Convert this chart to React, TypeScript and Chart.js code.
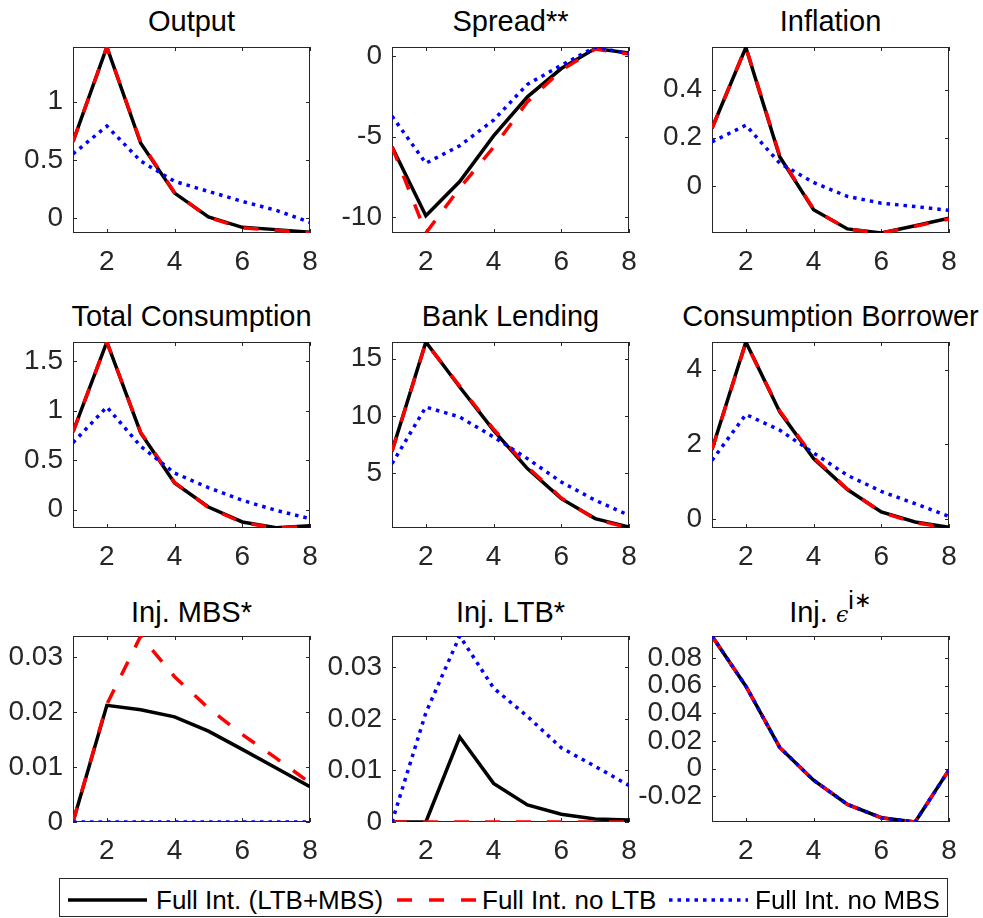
import { useEffect, useRef } from 'react';
import Chart from 'chart.js/auto';

// horizon (quarters) and tick marks shared by every panel
const periods = [1, 2, 3, 4, 5, 6, 7, 8];
const xTicks = [2, 4, 6, 8];

const seriesNames = ['Full Int. (LTB+MBS)', 'Full Int. no LTB', 'Full Int. no MBS'];

// Output
const outputFull = [0.657, 1.471, 0.643, 0.214, 0.009, -0.08, -0.1, -0.123];
const outputNoLtb = [0.657, 1.471, 0.65, 0.22, 0.005, -0.085, -0.105, -0.129];
const outputNoMbs = [0.551, 0.791, 0.49, 0.315, 0.229, 0.143, 0.066, -0.037];
const outputTicks = [0, 0.5, 1];

// Spread**
const spreadFull = [-5.62, -9.92, -7.79, -4.95, -2.52, -0.76, 0.48, 0.21];
const spreadNoLtb = [-5.62, -10.99, -8.2, -5.65, -2.83, -0.87, 0.45, 0.15];
const spreadNoMbs = [-3.72, -6.65, -5.56, -3.97, -1.74, -0.56, 0.58, 0.17];
const spreadTicks = [-10, -5, 0];

// Inflation
const inflationFull = [0.239, 0.575, 0.121, -0.099, -0.179, -0.196, -0.166, -0.134];
const inflationNoLtb = [0.239, 0.577, 0.125, -0.097, -0.18, -0.196, -0.168, -0.138];
const inflationNoMbs = [0.183, 0.252, 0.094, 0.014, -0.044, -0.072, -0.086, -0.102];
const inflationTicks = [0, 0.2, 0.4];

// Total Consumption
const consFull = [0.784, 1.692, 0.774, 0.269, 0.027, -0.124, -0.182, -0.161];
const consNoLtb = [0.784, 1.69, 0.78, 0.275, 0.022, -0.13, -0.185, -0.165];
const consNoMbs = [0.676, 1.036, 0.64, 0.37, 0.222, 0.094, -0.007, -0.091];
const consTicks = [0, 0.5, 1, 1.5];

// Bank Lending
const lendingFull = [6.92, 16.45, 12.53, 8.75, 5.41, 2.79, 1.05, 0.32];
const lendingNoLtb = [6.92, 16.4, 12.6, 8.85, 5.55, 2.85, 1.0, 0.23];
const lendingNoMbs = [5.84, 10.78, 9.91, 8.17, 6.28, 4.24, 2.65, 1.34];
const lendingTicks = [5, 10, 15];

// Consumption Borrower
const borrowerFull = [1.86, 4.74, 2.87, 1.62, 0.79, 0.19, -0.08, -0.22];
const borrowerNoLtb = [1.86, 4.72, 2.9, 1.65, 0.8, 0.18, -0.1, -0.24];
const borrowerNoMbs = [1.57, 2.8, 2.38, 1.77, 1.17, 0.74, 0.41, 0.07];
const borrowerTicks = [0, 2, 4];

// Inj. MBS*
const mbsFull = [0, 0.0212, 0.0204, 0.0191, 0.0165, 0.0132, 0.0098, 0.0064];
const mbsNoLtb = [0, 0.0214, 0.0338, 0.0264, 0.0207, 0.0159, 0.0116, 0.0071];
const mbsNoMbs = [0, 0, 0, 0, 0, 0, 0, 0];
const mbsTicks = [0, 0.01, 0.02, 0.03];

// Inj. LTB*
const ltbFull = [0, 0, 0.0165, 0.0075, 0.0033, 0.0015, 0.0006, 0.0004];
const ltbNoLtb = [0, 0, 0, 0, 0, 0, 0, 0];
const ltbNoMbs = [0, 0.0212, 0.0361, 0.026, 0.0205, 0.0144, 0.0108, 0.0071];
const ltbTicks = [0, 0.01, 0.02, 0.03];

// Inj. epsilon^i*
const epsFull = [0.0961, 0.0597, 0.0153, -0.0085, -0.026, -0.0357, -0.0388, -0.001];
const epsNoLtb = [0.0961, 0.0597, 0.0153, -0.0085, -0.026, -0.0357, -0.0388, -0.001];
const epsNoMbs = [0.0961, 0.0597, 0.0153, -0.0085, -0.026, -0.0357, -0.0388, -0.001];
const epsTicks = [-0.02, 0, 0.02, 0.04, 0.06, 0.08];

type Panel = {
  title: React.ReactNode;
  full: number[];
  noLtb: number[];
  noMbs: number[];
  yTicks: number[];
};

const FONT = "'Liberation Sans', Arial, Helvetica, sans-serif";

const panels: Panel[] = [
  { title: 'Output', full: outputFull, noLtb: outputNoLtb, noMbs: outputNoMbs, yTicks: outputTicks },
  { title: 'Spread**', full: spreadFull, noLtb: spreadNoLtb, noMbs: spreadNoMbs, yTicks: spreadTicks },
  { title: 'Inflation', full: inflationFull, noLtb: inflationNoLtb, noMbs: inflationNoMbs, yTicks: inflationTicks },
  { title: 'Total Consumption', full: consFull, noLtb: consNoLtb, noMbs: consNoMbs, yTicks: consTicks },
  { title: 'Bank Lending', full: lendingFull, noLtb: lendingNoLtb, noMbs: lendingNoMbs, yTicks: lendingTicks },
  { title: 'Consumption Borrower', full: borrowerFull, noLtb: borrowerNoLtb, noMbs: borrowerNoMbs, yTicks: borrowerTicks },
  { title: 'Inj. MBS*', full: mbsFull, noLtb: mbsNoLtb, noMbs: mbsNoMbs, yTicks: mbsTicks },
  { title: 'Inj. LTB*', full: ltbFull, noLtb: ltbNoLtb, noMbs: ltbNoMbs, yTicks: ltbTicks },
  {
    title: (
      <>
        Inj.{' '}
        <span style={{ fontFamily: "'DejaVu Serif', serif", fontStyle: 'italic', fontSize: 22 }}>ϵ</span>
        <span style={{ fontSize: 25, position: 'relative', top: -13 }}>i</span>
        <span style={{ fontSize: 21, position: 'relative', top: -15 }}>∗</span>
      </>
    ),
    full: epsFull,
    noLtb: epsNoLtb,
    noMbs: epsNoMbs,
    yTicks: epsTicks,
  },
];

// layout of the 3x3 grid (axes boxes)
const colLeft = [73, 392, 712];
const rowTop = [47, 342, 636];
const titleTop = [7, 302, 598];
const AX_W = 237;
const AX_H = 186;
const Y_AXIS_W = 80;
const X_AXIS_H = 48;
const PAD_TOP = 6;
const PAD_RIGHT = 18;
const TICK_LEN = 4;

const toXY = (vals: number[]) => vals.map((y, i) => ({ x: periods[i], y }));

// matlab style box with inward ticks on all four sides
const boxPlugin = {
  id: 'matlabBox',
  beforeDatasetsDraw(chart: any) {
    const { ctx, chartArea: a, scales } = chart;
    ctx.save();
    ctx.strokeStyle = '#262626';
    ctx.lineWidth = 1;
    ctx.strokeRect(a.left + 0.5, a.top + 0.5, a.width - 1, a.height - 1);
    ctx.beginPath();
    for (const t of scales.x.ticks) {
      const px = Math.round(scales.x.getPixelForValue(t.value)) + 0.5;
      ctx.moveTo(px, a.bottom);
      ctx.lineTo(px, a.bottom - TICK_LEN);
      ctx.moveTo(px, a.top);
      ctx.lineTo(px, a.top + TICK_LEN);
    }
    for (const t of scales.y.ticks) {
      const py = Math.round(scales.y.getPixelForValue(t.value)) + 0.5;
      ctx.moveTo(a.left, py);
      ctx.lineTo(a.left + TICK_LEN, py);
      ctx.moveTo(a.right, py);
      ctx.lineTo(a.right - TICK_LEN, py);
    }
    ctx.stroke();
    ctx.restore();
  },
};

function PanelChart({ panel, col, row }: { panel: Panel; col: number; row: number }) {
  const canvasRef = useRef<HTMLCanvasElement>(null);

  useEffect(() => {
    if (!canvasRef.current) return;
    const all = [...panel.full, ...panel.noLtb, ...panel.noMbs];
    const tickFont = { family: FONT, size: 28 };

    const chart = new Chart(canvasRef.current, {
      type: 'line',
      data: {
        datasets: [
          { label: seriesNames[0], data: toXY(panel.full), borderColor: '#000000', borderWidth: 3.5, order: 3 },
          {
            label: seriesNames[1],
            data: toXY(panel.noLtb),
            borderColor: '#ff0000',
            borderWidth: 3.5,
            borderDash: [15, 16],
            order: 2,
          },
          {
            label: seriesNames[2],
            data: toXY(panel.noMbs),
            borderColor: '#0000ff',
            borderWidth: 3.5,
            borderDash: [3.5, 5],
            order: 1,
          },
        ],
      },
      options: {
        animation: false,
        responsive: true,
        maintainAspectRatio: false,
        layout: { padding: { top: PAD_TOP, right: PAD_RIGHT, left: 0, bottom: 0 } },
        elements: {
          point: { radius: 0 },
          line: { tension: 0, borderCapStyle: 'butt', borderJoinStyle: 'miter', fill: false },
        },
        plugins: { legend: { display: false }, tooltip: { enabled: false } },
        scales: {
          x: {
            type: 'linear',
            min: periods[0],
            max: periods[periods.length - 1],
            grid: { display: false, drawTicks: false },
            border: { display: false },
            afterBuildTicks: (s: any) => {
              s.ticks = xTicks.map((v) => ({ value: v }));
            },
            afterFit: (s: any) => {
              s.height = X_AXIS_H;
              s.paddingLeft = 0;
              s.paddingRight = 0;
            },
            ticks: {
              padding: 12,
              color: '#262626',
              font: tickFont,
              maxRotation: 0,
              autoSkip: false,
              callback: (v: any) => String(v),
            },
          },
          y: {
            type: 'linear',
            min: Math.min(...all),
            max: Math.max(...all),
            grid: { display: false, drawTicks: false },
            border: { display: false },
            afterBuildTicks: (s: any) => {
              s.ticks = panel.yTicks.map((v) => ({ value: v }));
            },
            afterFit: (s: any) => {
              s.width = Y_AXIS_W;
              s.paddingTop = 0;
              s.paddingBottom = 0;
            },
            ticks: {
              padding: 10,
              color: '#262626',
              font: tickFont,
              autoSkip: false,
              callback: (v: any) => String(v),
            },
          },
        },
      },
      plugins: [boxPlugin],
    });

    return () => chart.destroy();
  }, [panel]);

  const left = colLeft[col];
  const top = rowTop[row];

  return (
    <>
      <div
        style={{
          position: 'absolute',
          left: left + AX_W / 2 - 200,
          top: titleTop[row],
          width: 400,
          textAlign: 'center',
          fontSize: 29,
          lineHeight: '29px',
          color: '#000',
          whiteSpace: 'nowrap',
        }}
      >
        {panel.title}
      </div>
      <div
        style={{
          position: 'absolute',
          left: left - Y_AXIS_W,
          top: top - PAD_TOP,
          width: Y_AXIS_W + AX_W + PAD_RIGHT,
          height: PAD_TOP + AX_H + X_AXIS_H,
        }}
      >
        <canvas ref={canvasRef} />
      </div>
    </>
  );
}

function LegendSample({ color, dash }: { color: string; dash?: string }) {
  return (
    <svg width={80} height={8} style={{ display: 'block' }}>
      <line x1={0} y1={4} x2={79} y2={4} stroke={color} strokeWidth={3.5} strokeDasharray={dash} />
    </svg>
  );
}

const legendItems = [
  { color: '#000000', dash: undefined, sampleX: 68, textX: 156 },
  { color: '#ff0000', dash: '15 17', sampleX: 397, textX: 482 },
  { color: '#0000ff', dash: '3.5 5', sampleX: 669, textX: 755 },
];

export default function App() {
  return (
    <div
      style={{
        position: 'absolute',
        left: 0,
        top: 0,
        width: 983,
        height: 918,
        background: '#ffffff',
        fontFamily: FONT,
        overflow: 'hidden',
      }}
    >
      {panels.map((p, i) => (
        <PanelChart key={i} panel={p} col={i % 3} row={Math.floor(i / 3)} />
      ))}
      <div
        style={{
          position: 'absolute',
          left: 59,
          top: 878,
          width: 889,
          height: 39,
          border: '1px solid #262626',
          boxSizing: 'border-box',
          background: '#fff',
        }}
      >
        {legendItems.map((it, i) => (
          <div key={i}>
            <div style={{ position: 'absolute', left: it.sampleX - 60, top: 17 }}>
              <LegendSample color={it.color} dash={it.dash} />
            </div>
            <div
              style={{
                position: 'absolute',
                left: it.textX - 60,
                top: 8,
                fontSize: 26,
                lineHeight: '26px',
                color: '#000',
                whiteSpace: 'nowrap',
              }}
            >
              {seriesNames[i]}
            </div>
          </div>
        ))}
      </div>
    </div>
  );
}
